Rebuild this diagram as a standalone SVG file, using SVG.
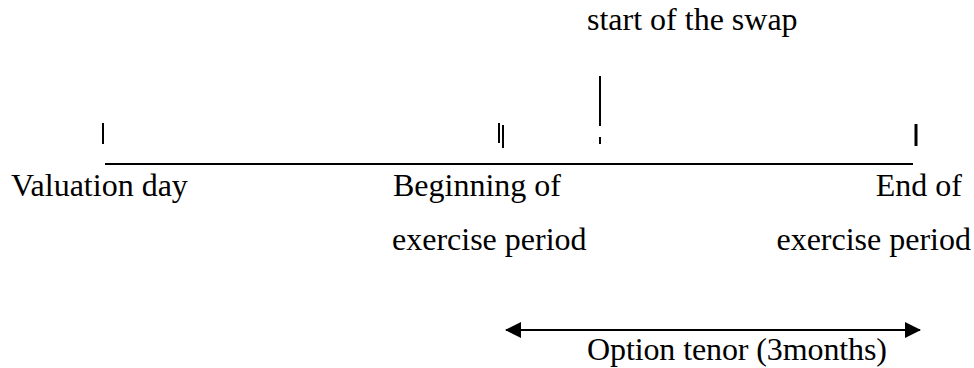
<svg xmlns="http://www.w3.org/2000/svg" width="974" height="368" viewBox="0 0 974 368">
<style>
text{font-family:"Liberation Serif","Times New Roman","DejaVu Serif",serif;font-size:32px;fill:#000}
.tk{stroke:#000;stroke-width:2}
</style>
<defs>
<marker id="ah" viewBox="0 0 16 16" refX="15" refY="8" markerWidth="16" markerHeight="16" markerUnits="userSpaceOnUse" orient="auto-start-reverse">
<path d="M0,0 L16,8 L0,16 Z" fill="#000"/>
</marker>
</defs>
<rect width="974" height="368" fill="#fff"/>
<g id="connectors">
<line x1="105" y1="164" x2="913" y2="164" stroke="#000" stroke-width="2"/>
<line x1="506" y1="330" x2="920" y2="330" stroke="#000" stroke-width="2" marker-start="url(#ah)" marker-end="url(#ah)"/>
</g>
<g id="valuation">
<line class="tk" x1="103" y1="123" x2="103" y2="144"/>
<text x="11" y="196">Valuation day</text>
</g>
<g id="beginning">
<line class="tk" x1="499" y1="123" x2="499" y2="143"/>
<line class="tk" x1="503" y1="125" x2="503" y2="148"/>
<text x="393" y="196">Beginning of</text>
<text x="392" y="250">exercise period</text>
</g>
<g id="swap">
<line class="tk" x1="600" y1="76" x2="600" y2="126"/>
<line class="tk" x1="600" y1="137" x2="600" y2="144"/>
<text x="587" y="30">start of the swap</text>
</g>
<g id="end">
<line x1="916" y1="124" x2="916" y2="146" stroke="#000" stroke-width="3"/>
<text x="962" y="196" text-anchor="end">End of</text>
<text x="971" y="250" text-anchor="end">exercise period</text>
</g>
<g id="tenor">
<text x="587" y="360" textLength="300" lengthAdjust="spacing">Option tenor (3months)</text>
</g>
</svg>
